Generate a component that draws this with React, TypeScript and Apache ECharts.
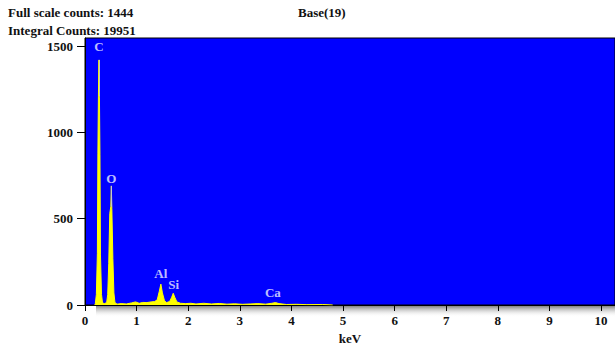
import React, { useEffect, useRef } from "react";
import * as echarts from "echarts";

const spectrumKeV = [0.19, 0.2, 0.22, 0.24, 0.25, 0.26, 0.27, 0.28, 0.29, 0.3, 0.32, 0.34, 0.38, 0.42, 0.44, 0.46, 0.48, 0.5, 0.51, 0.52, 0.54, 0.56, 0.58, 0.62, 0.7, 0.8, 0.9, 0.98, 1.05, 1.12, 1.2, 1.28, 1.35, 1.4, 1.44, 1.47, 1.5, 1.54, 1.58, 1.64, 1.68, 1.71, 1.74, 1.78, 1.85, 1.95, 2.05, 2.15, 2.3, 2.45, 2.6, 2.75, 2.9, 3.05, 3.2, 3.35, 3.5, 3.62, 3.69, 3.76, 3.9, 4.1, 4.3, 4.6, 4.8];
const spectrumCounts = [0, 8, 60, 300, 880, 1210, 1420, 1200, 870, 290, 60, 12, 8, 15, 60, 240, 530, 570, 690, 560, 270, 70, 15, 5, 8, 6, 12, 18, 10, 15, 14, 18, 20, 30, 80, 121, 70, 25, 14, 20, 45, 68, 45, 18, 10, 8, 10, 6, 10, 6, 9, 5, 7, 4, 6, 8, 5, 10, 14, 8, 3, 4, 2, 3, 0];

const elementNames = ["C", "O", "Al", "Si", "Ca"];
const elementKeV = [0.27, 0.51, 1.47, 1.72, 3.64];
const elementLabelCounts = [1497, 734, 185, 121, 75];

const markerKeV = [0.27, 0.51];
const markerBottom = [1210, 570];
const markerTop = [1420, 690];

const xTickValues = [0, 1, 2, 3, 4, 5, 6, 7, 8, 9, 10];
const yTickValues = [0, 500, 1000, 1500];

const headerLeft = ["Full scale counts: 1444", "Integral Counts: 19951"];
const headerCenter = "Base(19)";
const xAxisName = "keV";

const FONT = "'Liberation Serif', 'Times New Roman', serif";

export default function App() {
  const ref = useRef<HTMLDivElement>(null);
  useEffect(() => {
    if (!ref.current) return;
    const chart = echarts.init(ref.current, null, { renderer: "svg" });
    const spectrum = spectrumKeV.map((k, i) => [k, spectrumCounts[i]]);
    const labels = elementNames.map((n, i) => ({ name: n, value: [elementKeV[i], elementLabelCounts[i]] }));
    const markers = markerKeV.map((k, i) => [
      { coord: [k, markerBottom[i]] },
      { coord: [k, markerTop[i]] },
    ]);
    chart.setOption({
      animation: false,
      backgroundColor: "#ffffff",
      grid: {
        left: 85,
        top: 38,
        right: 0,
        bottom: 40,
        outerBoundsMode: "none",
        containLabel: false,
        show: true,
        backgroundColor: "#0000ff",
        borderColor: "#000000",
        borderWidth: 1,
      },
      graphic: [
        {
          type: "rect",
          z: -1,
          shape: { x: 96, y: 306, width: 519, height: 11 },
          style: {
            fill: new echarts.graphic.LinearGradient(0, 0, 0, 1, [
              { offset: 0, color: "rgba(110,110,110,0.85)" },
              { offset: 1, color: "rgba(255,255,255,0)" },
            ]),
          },
        },
        {
          type: "text",
          left: 8,
          top: 6,
          style: { text: headerLeft[0], font: `bold 13px ${FONT}`, fill: "#111" },
        },
        {
          type: "text",
          left: 8,
          top: 24,
          style: { text: headerLeft[1], font: `bold 13px ${FONT}`, fill: "#111" },
        },
        {
          type: "text",
          left: 298,
          top: 6,
          style: { text: headerCenter, font: `bold 13px ${FONT}`, fill: "#111" },
        },
      ],
      xAxis: {
        type: "value",
        min: 0,
        max: 10.27,
        interval: 1,
        name: xAxisName,
        nameLocation: "middle",
        nameGap: 26,
        nameTextStyle: { fontFamily: FONT, fontWeight: "bold", fontSize: 13, color: "#111" },
        axisLine: { show: true, onZero: false, lineStyle: { color: "#000", width: 1 } },
        axisTick: { show: true, inside: false, length: 6, customValues: xTickValues, lineStyle: { color: "#000" } },
        axisLabel: {
          customValues: xTickValues,
          margin: 9,
          formatter: (v: number) => String(v),
          fontFamily: FONT,
          fontWeight: "bold",
          fontSize: 13,
          color: "#111",
        },
        splitLine: { show: false },
      },
      yAxis: {
        type: "value",
        min: 0,
        max: 1547,
        interval: 500,
        axisLine: { show: true, lineStyle: { color: "#000", width: 1 } },
        axisTick: { show: true, length: 8, customValues: yTickValues, lineStyle: { color: "#000" } },
        axisLabel: {
          customValues: yTickValues,
          margin: 12,
          formatter: (v: number) => String(v),
          fontFamily: FONT,
          fontWeight: "bold",
          fontSize: 13,
          color: "#111",
        },
        splitLine: { show: false },
      },
      series: [
        {
          type: "line",
          data: spectrum,
          symbol: "none",
          lineStyle: { color: "#ffff00", width: 1 },
          areaStyle: { color: "#ffff00", opacity: 1 },
          markLine: {
            silent: true,
            symbol: "none",
            label: { show: false },
            lineStyle: { color: "#c8c8c8", width: 1, type: "solid" },
            data: markers,
          },
        },
        {
          type: "scatter",
          data: labels,
          symbolSize: 0,
          label: {
            show: true,
            position: "inside",
            formatter: (p: any) => p.name,
            fontFamily: FONT,
            fontWeight: "bold",
            fontSize: 13,
            color: "#f0f0ff",
          },
        },
      ],
    });
    return () => chart.dispose();
  }, []);
  return <div ref={ref} style={{ position: "fixed", left: 0, top: 0, width: 615, height: 345 }} />;
}
